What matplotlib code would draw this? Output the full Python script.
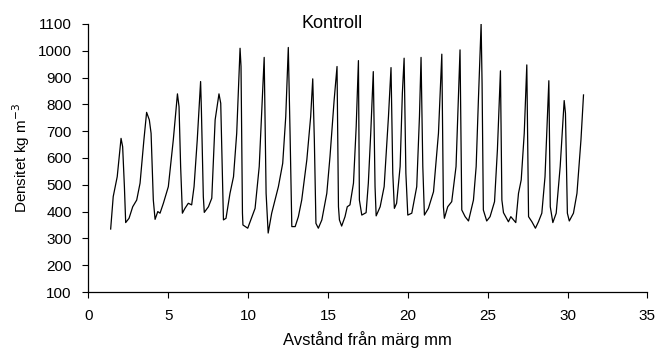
import matplotlib
matplotlib.use("Agg")
import matplotlib.pyplot as plt

plt.rcParams['font.family'] = ['Liberation Sans', 'DejaVu Sans']

dist_mm = [1.40, 1.56, 1.81, 2.05, 2.15, 2.26, 2.34, 2.55, 2.78, 3.03, 3.24, 3.48, 3.65, 3.82, 3.93,
           4.07, 4.18, 4.35, 4.49, 4.70, 5.01, 5.32, 5.58, 5.68, 5.78, 5.89, 6.05, 6.26, 6.47, 6.62,
           6.82, 7.03, 7.08, 7.20, 7.26, 7.52, 7.73, 7.94, 8.18, 8.29, 8.46, 8.62, 8.87, 9.09, 9.29,
           9.50, 9.56, 9.65, 9.68, 9.98, 10.17, 10.44, 10.70, 11.01, 11.13, 11.26, 11.48, 11.69, 11.90,
           12.17, 12.36, 12.52, 12.63, 12.74, 12.95, 13.15, 13.36, 13.68, 13.92, 14.05, 14.15, 14.25,
           14.40, 14.62, 14.93, 15.13, 15.39, 15.57, 15.66, 15.72, 15.86, 16.07, 16.21, 16.38, 16.60,
           16.77, 16.91, 16.97, 17.12, 17.39, 17.53, 17.68, 17.84, 17.95, 18.02, 18.27, 18.52, 18.79,
           18.95, 19.06, 19.16, 19.30, 19.52, 19.66, 19.77, 19.88, 20.00, 20.25, 20.56, 20.73, 20.83,
           20.94, 21.04, 21.29, 21.61, 21.92, 22.13, 22.23, 22.29, 22.50, 22.75, 23.02, 23.27, 23.38,
           23.59, 23.80, 24.11, 24.28, 24.42, 24.59, 24.65, 24.73, 24.94, 25.15, 25.43, 25.61, 25.80,
           25.89, 25.99, 26.30, 26.45, 26.62, 26.76, 26.93, 27.10, 27.29, 27.45, 27.56, 27.77, 27.99,
           28.18, 28.39, 28.59, 28.83, 28.92, 29.08, 29.29, 29.54, 29.79, 29.87, 29.99, 30.11, 30.37,
           30.59, 30.84, 31.00]

density = [335, 456, 530, 673, 642, 493, 359, 375, 418, 443, 506, 667, 770, 742, 692,
           443, 371, 400, 394, 431, 493, 667, 839, 791, 568, 394, 412, 431, 425, 493,
           667, 885, 779, 456, 397, 418, 450, 742, 839, 804, 369, 375, 468, 530, 692,
           1009, 941, 394, 350, 338, 369, 412, 568, 975, 468, 320, 394, 443, 493,
           580, 754, 1012, 692, 344, 344, 381, 443, 593, 754, 895, 667, 356,
           338, 369, 468, 605, 816, 941, 418, 369, 346, 381, 418, 425, 506,
           717, 963, 443, 387, 396, 506, 692, 922, 493, 384, 418, 493, 754,
           937, 543, 412, 431, 568, 841, 972, 543, 387, 394, 493, 754, 975,
           568, 387, 412, 474, 692, 987, 418, 375, 418, 437, 568, 1003, 406,
           381, 365, 443, 568, 816, 1100, 879, 406, 365, 381, 437, 630, 925,
           443, 396, 362, 381, 369, 359, 468, 518, 692, 947, 381, 362, 338,
           362, 394, 530, 888, 418, 359, 394, 568, 814, 767, 394, 365, 394,
           468, 667, 835]

x_ticks = [0, 5, 10, 15, 20, 25, 30, 35]
y_ticks = [100, 200, 300, 400, 500, 600, 700, 800, 900, 1000, 1100]

fig = plt.figure(figsize=(6.57, 3.51), dpi=100)
ax = fig.add_axes([0.1344, 0.168, 0.851, 0.764])
ax.plot(dist_mm, density, color='black', linewidth=0.9)

ax.set_xlim(0, 35)
ax.set_ylim(100, 1100)
ax.set_xticks(x_ticks)
ax.set_yticks(y_ticks)
ax.tick_params(direction='out', length=4, width=0.8, labelsize=11, colors='black')
ax.tick_params(axis='y', pad=8)
ax.tick_params(axis='x', pad=8)
ax.spines['top'].set_visible(False)
ax.spines['right'].set_visible(False)
for s in ('left', 'bottom'):
    ax.spines[s].set_linewidth(0.9)

ax.set_xlabel('Avstånd från märg mm', fontsize=12, labelpad=6)
ax.set_ylabel('Densitet kg m$^{-3}$', fontsize=11, labelpad=4)
fig.text(0.506, 0.920, 'Kontroll', ha='center', va='baseline', fontsize=13)

fig.savefig('out.png', dpi=100)
